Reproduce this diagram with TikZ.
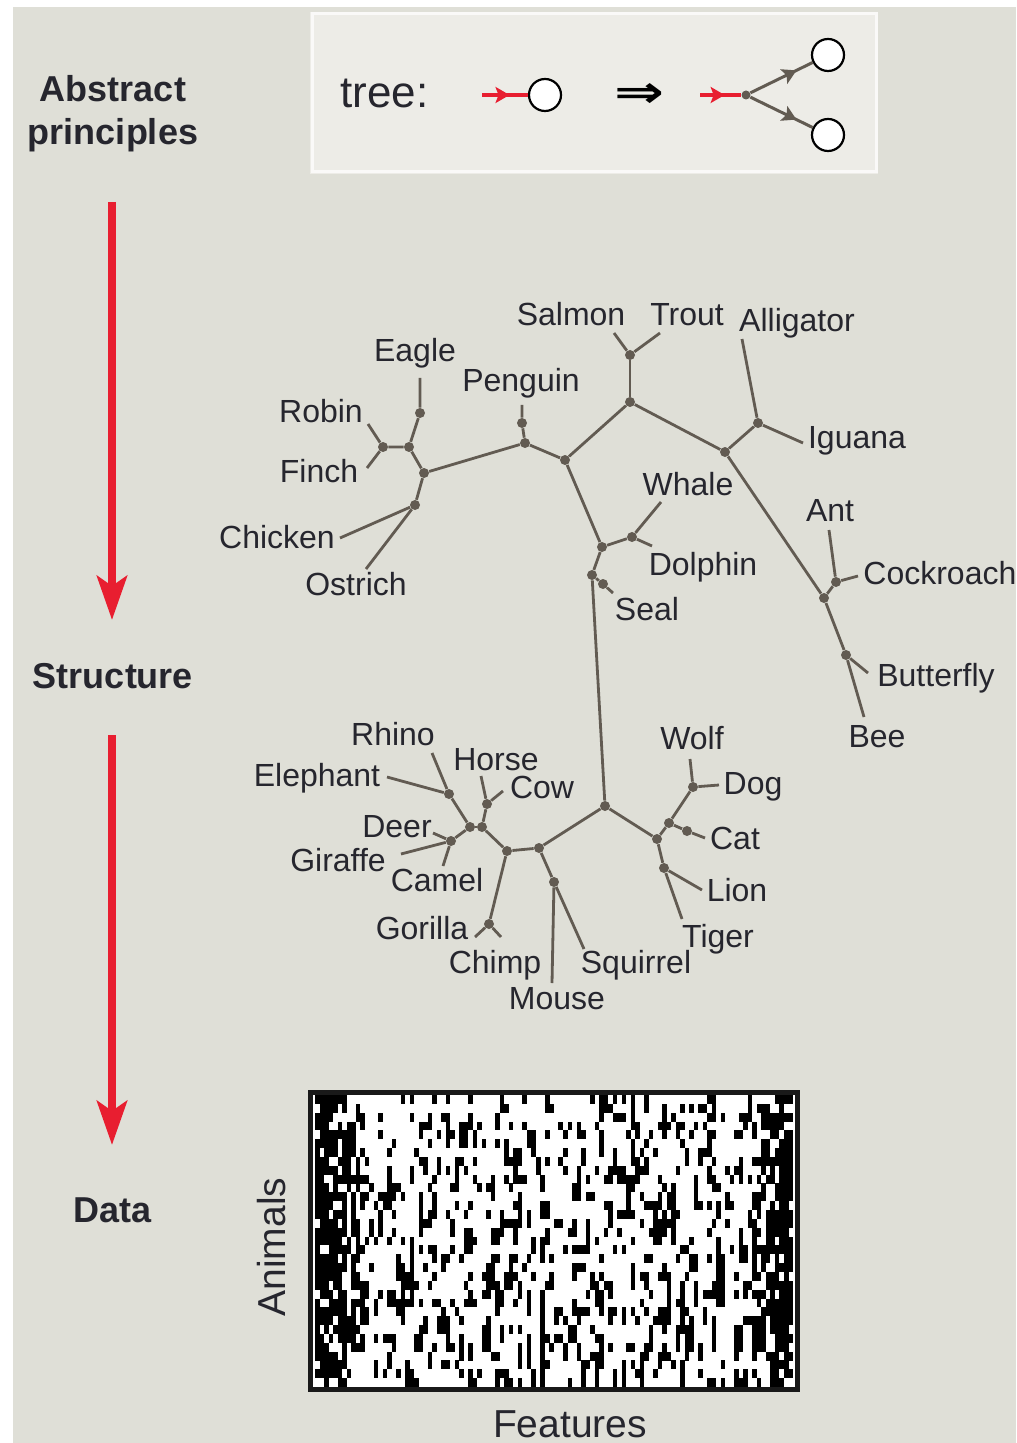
\documentclass[tikz,border=0pt]{standalone}
\usepackage{fontspec}
\setmainfont{Liberation Sans}
\newfontfamily\symbolfont{DejaVu Sans}
\usepackage{xcolor}
\usepackage{tikz}
\usetikzlibrary{arrows.meta, positioning, decorations.markings}

\definecolor{panelgrey}{RGB}{223,223,215}
\definecolor{boxgrey}{RGB}{237,236,231}
\definecolor{treegrey}{RGB}{98,91,82}
\definecolor{arrowred}{RGB}{232,30,48}
\definecolor{textdark}{RGB}{38,38,46}

\begin{document}
\begin{tikzpicture}[
    x=0.5pt, y=-0.5pt,
    tier/.style={font=\fontsize{18}{21.5}\selectfont\bfseries, text=textdark, inner sep=0pt, align=center},
    animal/.style={font=\fontsize{16}{19}\selectfont, text=textdark, inner sep=0pt, text height=11.5pt, text depth=0pt},
    axislabel/.style={font=\fontsize{19.5}{23}\selectfont, text=textdark, inner sep=0pt, text height=14pt, text depth=0pt},
    edge/.style={draw=treegrey, line width=1.4pt},
    dot/.style={circle, fill=treegrey, inner sep=0pt, minimum size=5pt},
    flow/.style={draw=arrowred, line width=4pt, -{Stealth[length=22pt, width=15pt, inset=5pt]}},
    leaf/.style={circle, draw=black, fill=white, line width=1.1pt, inner sep=0pt, minimum size=16pt},
    midarrow/.style={postaction={decorate}, decoration={markings, mark=at position #1 with {\arrow{Stealth[length=7pt, width=8pt, inset=1.5pt]}}}},
    redstub/.style={color=arrowred, line width=2pt, midarrow=0.6},
    greybranch/.style={color=treegrey, line width=1.5pt, midarrow=0.74}
]
\useasboundingbox (0,0) rectangle (1016,1443);
\fill[white] (0,0) rectangle (1016,1443);
\fill[panelgrey] (13,7) rectangle (1016,1443);

% Levels
\node[tier, anchor=north] (abstract) at (113,75) {Abstract\\principles};
\node[tier, anchor=base] (structure) at (113,688) {Structure};
\node[tier, anchor=base] (data) at (113,1222) {Data};
\coordinate (flow1s) at (112,202);
\coordinate (flow1e) at (112,620);
\coordinate (flow2s) at (112,735);
\coordinate (flow2e) at (112,1145);
\draw[flow] (flow1s) -- (flow1e);
\draw[flow] (flow2s) -- (flow2e);

% Tree rule
\fill[boxgrey] (310,12) rectangle (878,174);
\draw[white!70!boxgrey, line width=1.5pt] (312,14) rectangle (876,172);
\node[font=\fontsize{22}{26}\selectfont, text=textdark, inner sep=0pt, anchor=base west] (rule) at (340,108) {tree:};
\node[leaf] (single) at (545,95) {};
\coordinate (in1) at (482,95);
\draw[redstub] (in1) -- (single);
\node[inner sep=0pt] (implies) at (639,96) {\resizebox{25pt}{12pt}{\symbolfont\bfseries ⇒}};
\node[dot, minimum size=4.5pt] (split) at (746,95) {};
\coordinate (in2) at (700,95);
\draw[redstub] (in2) -- (split);
\node[leaf] (upper) at (828,55) {};
\node[leaf] (lower) at (828,135) {};
\draw[greybranch] (split) -- (upper);
\draw[greybranch] (split) -- (lower);

% Labels and leaf ends
\node[animal] (salmon) at (571,314) {Salmon};      \coordinate (salmon-end) at (614,333);
\node[animal] (trout) at (687,314) {Trout};        \coordinate (trout-end) at (660,333);
\node[animal] (alligator) at (797,320) {Alligator};\coordinate (alligator-end) at (742,339);
\node[animal] (iguana) at (857,437) {Iguana};      \coordinate (iguana-end) at (803,443);
\node[animal] (eagle) at (415,350) {Eagle};        \coordinate (eagle-end) at (420,378);
\node[animal] (penguin) at (521,380) {Penguin};    \coordinate (penguin-end) at (522,405);
\node[animal] (robin) at (321,411) {Robin};        \coordinate (robin-end) at (368,424);
\node[animal] (finch) at (319,471) {Finch};        \coordinate (finch-end) at (367,468);
\node[animal] (chicken) at (277,537) {Chicken};    \coordinate (chicken-end) at (340,538);
\node[animal] (ostrich) at (356,584) {Ostrich};    \coordinate (ostrich-end) at (366,569);
\node[animal] (whale) at (688,484) {Whale};        \coordinate (whale-end) at (661,502);
\node[animal] (dolphin) at (703,564) {Dolphin};    \coordinate (dolphin-end) at (652,546);
\node[animal] (seal) at (647,609) {Seal};          \coordinate (seal-end) at (613,593);
\node[animal] (ant) at (830,510) {Ant};            \coordinate (ant-end) at (829,530);
\node[animal, anchor=west] (cockroach) at (863,573) {Cockroach}; \coordinate (cockroach-end) at (858,576);
\node[animal] (butterfly) at (936,675) {Butterfly};\coordinate (butterfly-end) at (868,673);
\node[animal] (bee) at (877,736) {Bee};            \coordinate (bee-end) at (864,717);
\node[animal] (rhino) at (393,734) {Rhino};        \coordinate (rhino-end) at (432,753);
\node[animal] (elephant) at (317,775) {Elephant};  \coordinate (elephant-end) at (387,777);
\node[animal] (horse) at (496,759) {Horse};        \coordinate (horse-end) at (481,776);
\node[animal] (cow) at (542,787) {Cow};            \coordinate (cow-end) at (503,791);
\node[animal] (deer) at (397,826) {Deer};          \coordinate (deer-end) at (433,833);
\node[animal] (giraffe) at (338,860) {Giraffe};    \coordinate (giraffe-end) at (401,854);
\node[animal] (camel) at (437,880) {Camel};        \coordinate (camel-end) at (443,866);
\node[animal] (gorilla) at (422,928) {Gorilla};    \coordinate (gorilla-end) at (475,937);
\node[animal] (chimp) at (495,962) {Chimp};        \coordinate (chimp-end) at (501,937);
\node[animal] (mouse) at (557,998) {Mouse};        \coordinate (mouse-end) at (552,983);
\node[animal] (squirrel) at (636,962) {Squirrel};  \coordinate (squirrel-end) at (584,949);
\node[animal] (wolf) at (692,738) {Wolf};          \coordinate (wolf-end) at (690,759);
\node[animal] (dog) at (753,783) {Dog};            \coordinate (dog-end) at (719,785);
\node[animal] (cat) at (735,838) {Cat};            \coordinate (cat-end) at (705,838);
\node[animal] (lion) at (737,890) {Lion};          \coordinate (lion-end) at (702,890);
\node[animal] (tiger) at (718,936) {Tiger};        \coordinate (tiger-end) at (682,919);

% Internal nodes
\node[dot] (eagled) at (420,413) {};
\node[dot] (rf) at (383,447) {};
\node[dot] (erf) at (409,447) {};
\node[dot] (bird) at (424,473) {};
\node[dot] (co) at (415,505) {};
\node[dot] (pengd) at (522,423) {};
\node[dot] (peng) at (525,443) {};
\node[dot] (hub) at (565,460) {};
\node[dot] (fish) at (630,402) {};
\node[dot] (st) at (630,355) {};
\node[dot] (rept) at (725,452) {};
\node[dot] (ai) at (758,423) {};
\node[dot] (ins) at (824,598) {};
\node[dot] (ac) at (836,582) {};
\node[dot] (bb) at (846,655) {};
\node[dot] (sea) at (602,547) {};
\node[dot] (wd) at (632,537) {};
\node[dot] (sealj) at (592,575) {};
\node[dot] (seald) at (603,584) {};
\node[dot] (mam) at (605,806) {};
\node[dot] (herb) at (539,848) {};
\node[dot] (prim) at (507,851) {};
\node[dot] (gc) at (489,924) {};
\node[dot] (ung) at (482,827) {};
\node[dot] (hc) at (487,804) {};
\node[dot] (ung2) at (470,827) {};
\node[dot] (re) at (449,794) {};
\node[dot] (dgc) at (451,841) {};
\node[dot] (ms) at (554,882) {};
\node[dot] (carn) at (657,839) {};
\node[dot] (cd) at (669,823) {};
\node[dot] (catd) at (687,831) {};
\node[dot] (wdog) at (693,787) {};
\node[dot] (lt) at (664,868) {};

% Edges
\draw[edge] (eagle-end) -- (eagled) -- (erf);
\draw[edge] (robin-end) -- (rf);
\draw[edge] (finch-end) -- (rf);
\draw[edge] (rf) -- (erf) -- (bird);
\draw[edge] (bird) -- (co);
\draw[edge] (chicken-end) -- (co);
\draw[edge] (ostrich-end) -- (co);
\draw[edge] (bird) -- (peng);
\draw[edge] (penguin-end) -- (pengd) -- (peng);
\draw[edge] (peng) -- (hub);
\draw[edge] (hub) -- (fish);
\draw[edge] (fish) -- (st);
\draw[edge] (salmon-end) -- (st);
\draw[edge] (trout-end) -- (st);
\draw[edge] (fish) -- (rept);
\draw[edge] (rept) -- (ai);
\draw[edge] (alligator-end) -- (ai);
\draw[edge] (iguana-end) -- (ai);
\draw[edge] (rept) -- (ins);
\draw[edge] (ins) -- (ac);
\draw[edge] (ant-end) -- (ac);
\draw[edge] (cockroach-end) -- (ac);
\draw[edge] (ins) -- (bb);
\draw[edge] (butterfly-end) -- (bb);
\draw[edge] (bee-end) -- (bb);
\draw[edge] (hub) -- (sea);
\draw[edge] (sea) -- (wd);
\draw[edge] (whale-end) -- (wd);
\draw[edge] (dolphin-end) -- (wd);
\draw[edge] (sea) -- (sealj);
\draw[edge] (sealj) -- (seald) -- (seal-end);
\draw[edge] (sealj) -- (mam);
\draw[edge] (mam) -- (herb);
\draw[edge] (mam) -- (carn);
\draw[edge] (herb) -- (prim);
\draw[edge] (herb) -- (ms);
\draw[edge] (mouse-end) -- (ms);
\draw[edge] (squirrel-end) -- (ms);
\draw[edge] (prim) -- (gc);
\draw[edge] (gorilla-end) -- (gc);
\draw[edge] (chimp-end) -- (gc);
\draw[edge] (prim) -- (ung);
\draw[edge] (ung) -- (hc);
\draw[edge] (horse-end) -- (hc);
\draw[edge] (cow-end) -- (hc);
\draw[edge] (ung) -- (ung2);
\draw[edge] (ung2) -- (re);
\draw[edge] (rhino-end) -- (re);
\draw[edge] (elephant-end) -- (re);
\draw[edge] (ung2) -- (dgc);
\draw[edge] (deer-end) -- (dgc);
\draw[edge] (giraffe-end) -- (dgc);
\draw[edge] (camel-end) -- (dgc);
\draw[edge] (carn) -- (cd);
\draw[edge] (cd) -- (catd) -- (cat-end);
\draw[edge] (cd) -- (wdog);
\draw[edge] (wolf-end) -- (wdog);
\draw[edge] (dog-end) -- (wdog);
\draw[edge] (carn) -- (lt);
\draw[edge] (lion-end) -- (lt);
\draw[edge] (tiger-end) -- (lt);

% Data matrix
\fill[white] (313,1095) rectangle (795,1387);
\pgfmathsetseed{23}
\foreach \c in {0,...,105}{
  \pgfmathsetmacro\pc{min(0.88,0.24+0.12*rnd+0.62*max(0,1-\c/13)+0.6*max(0,1-(105-\c)/9))}
  \pgfmathsetmacro\ac{0.3+0.6*\pc}
  \pgfmathsetmacro\bc{\pc*(1-\ac)/(1-\pc)}
  \gdef\prevcell{0}
  \foreach \r in {0,...,32}{
    \pgfmathsetmacro\thr{\prevcell==1 ? \ac : \bc}
    \pgfmathtruncatemacro\cell{rnd<\thr ? 1 : 0}
    \global\let\prevcell\cell
    \ifnum\cell=1
      \fill[black] ({315+\c*4.509},{1095+\r*8.848}) rectangle ++(4.55,8.9);
    \fi
  }
}
\node[draw=black!90, line width=2.6pt, inner sep=0pt, minimum width=243.5pt, minimum height=148.5pt] (datagrid) at (554,1241) {};
\node[axislabel, rotate=90] (animals) at (271,1247) {Animals};
\node[axislabel] (features) at (570,1423) {Features};

\end{tikzpicture}
\end{document}
